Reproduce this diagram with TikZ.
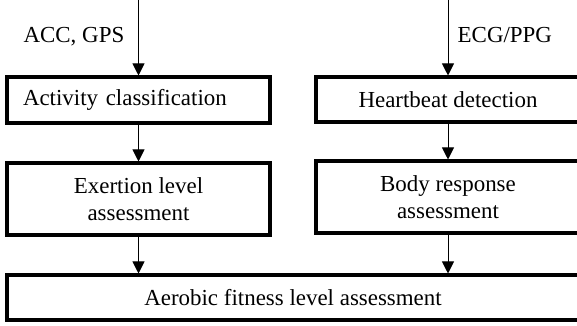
\documentclass[tikz,border=0pt]{standalone}
\usepackage{fontspec}
\setmainfont{Liberation Serif}
\newfontfamily\boxfont{Liberation Serif}
\usetikzlibrary{arrows.meta}

\begin{document}
\begin{tikzpicture}[x=0.75pt,y=-0.75pt,
    every node/.style={font=\boxfont\fontsize{17.2pt}{20.4pt}\selectfont},
    blockbox/.style={draw, rectangle, line width=2.3pt, inner sep=0pt, align=center},
    flow/.style={line width=0.75pt, -{Triangle[width=9pt,length=9pt]}}]
    \def\leftx{138.5}   % x of the left column
    \def\rightx{448}    % x of the right column
    \useasboundingbox (0,0) rectangle (577,325);

    % Draw the boxes
    \node[blockbox, minimum height=34.5pt, text width=173.25pt, inner xsep=12pt, align=left]
        (activity) at (\leftx,100) {Activity classification};
    \node[blockbox, minimum width=198pt, minimum height=33.75pt]
        (heartbeat) at (\rightx,99.5) {Heartbeat detection};
    \node[blockbox, minimum width=197.25pt, minimum height=54pt]
        (exertion) at (\leftx,199) {Exertion level\\assessment};
    \node[blockbox, minimum width=198pt, minimum height=54pt]
        (response) at (\rightx,197) {Body response\\assessment};
    \node[blockbox, minimum width=429pt, minimum height=33.75pt]
        (aerobic) at (293,297.5) {Aerobic fitness level assessment};

    % Inputs from the top
    \coordinate (accin) at (\leftx,0);
    \coordinate (ecgin) at (\rightx,0);
    \node[anchor=base east] (acclabel) at (129,42) {ACC, GPS};
    \node[anchor=base west] (ecglabel) at (453,42) {ECG/PPG};

    % Draw the arrows
    \draw[flow] (accin) -- (activity);
    \draw[flow] (ecgin) -- (heartbeat);
    \draw[flow] (activity) -- (exertion);
    \draw[flow] (heartbeat) -- (response);
    \draw[flow] (exertion.south) -- (exertion.south |- aerobic.north);
    \draw[flow] (response.south) -- (response.south |- aerobic.north);
\end{tikzpicture}
\end{document}
